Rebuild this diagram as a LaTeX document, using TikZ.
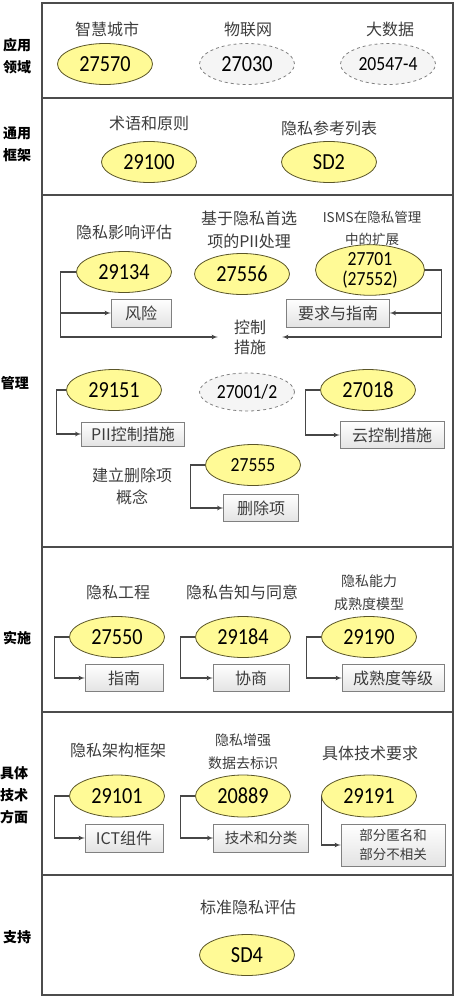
\documentclass[tikz,border=0pt]{standalone}
\usepackage{fontspec}
\newfontfamily\cjk{Noto Sans CJK SC}
\newfontfamily\numfont[FakeStretch=0.88]{Carlito}
\usepackage{tikz}
\usetikzlibrary{arrows,positioning,shapes.geometric}
\definecolor{stdyellow}{RGB}{255,250,150}
\definecolor{stdedge}{RGB}{90,85,40}
\definecolor{linegray}{RGB}{70,70,70}
\definecolor{textgray}{RGB}{60,60,60}

\begin{document}
\begin{tikzpicture}[
    x=1pt, y=-1pt,
    >=latex',
    font=\cjk\fontsize{16}{23}\selectfont,
    std/.style={
		ellipse,
		draw=stdedge,
		fill=stdyellow,
		line width=0.8pt,
		inner sep=0pt,
		minimum width=95pt,
		minimum height=41pt,
		font=\numfont\fontsize{23}{24}\selectfont
	},
	plan/.style={
		std,
		dashed,
		draw=gray,
		fill=gray!8
	},
	smallnum/.style={
		font=\numfont\fontsize{20}{20}\selectfont
	},
	item/.style={
		rectangle,
		draw=gray,
		top color=white,
		bottom color=gray!22,
		inner sep=0pt,
		minimum height=27pt,
		text=textgray
	},
	topic/.style={
		text=textgray,
		align=center,
		inner sep=0pt
	},
	smalltext/.style={
		font=\cjk\fontsize{14}{23}\selectfont
	},
	layer/.style={
		font=\cjk\bfseries\fontsize{14}{22}\selectfont,
		align=center,
		inner sep=0pt
	},
	conn/.style={
		draw=linegray,
		line width=1.1pt,
		->
	}
  ]

\useasboundingbox (0,0) rectangle (456,998);

% // The layers
\draw [line width=1.5pt, gray!60!black] (42,3) rectangle (453,995);
\foreach \y in {98,195,547,712,875}
  \draw [line width=1.5pt, gray!60!black] (42,\y) -- (453,\y);

\node [layer] (lapp) at (17,56) {应用\\领域};
\node [layer] (lgen) at (17,144) {通用\\框架};
\node [layer] (lman) at (15,383) {管理};
\node [layer] (limp) at (17,638) {实施};
\node [layer] (ltec) at (14,795) {具体\\技术\\方面};
\node [layer] (lsup) at (17,937) {支持};

% // Application
\node [topic] (tcity) at (107,29) {智慧城市};
\node [std] (s27570) at (105,64) {27570};
\node [topic] (tiot) at (248,29) {物联网};
\node [plan] (s27030) at (247,64) {27030};
\node [topic] (tbig) at (390,29) {大数据};
\node [plan, smallnum] (s20547) at (388,64) {20547-4};

% // Framework
\node [topic] (tterm) at (149,123) {术语和原则};
\node [std] (s29100) at (149,162) {29100};
\node [topic] (tref) at (329,128) {隐私参考列表};
\node [std] (sSD2) at (329,162) {SD2};

% // Management
\node [topic] (tpia) at (124,232) {隐私影响评估};
\node [topic] (tpref) at (249,230) {基于隐私首选\\项的PII处理};
\node [topic, font=\cjk\fontsize{13.5}{22}\selectfont] (tisms) at (372,228) {ISMS在隐私管理\\中的扩展};
\node [std] (s29134) at (124,272) {29134};
\node [std] (s27556) at (242,274) {27556};
\node [std, smallnum, align=center, minimum width=109pt, minimum height=46pt] (s27701) at (370,270) {27701\\(27552)};
\node [item, minimum width=60pt, minimum height=28pt] (risk) at (141,313) {风险};
\node [item, minimum width=103pt, minimum height=28pt] (req) at (338,313) {要求与指南};
\node [topic, minimum width=64pt, font=\cjk\fontsize{16}{20}\selectfont] (ctrl) at (250,337) {控制\\措施};

\draw [conn] (s29134.west) -- ++(-16,0) |- (risk.west);
\draw [conn] (s29134.west) -- ++(-16,0) |- (ctrl.west);
\draw [conn] (s27701.east) -- ++(17,0) |- (req.east);
\draw [conn] (s27701.east) -- ++(17,0) |- (ctrl.east);

\node [std] (s29151) at (114,390) {29151};
\node [item, minimum width=103pt, minimum height=24pt] (piictl) at (133,434) {PII控制措施};
\draw [conn] (s29151.west) -- ++(-10,0) |- (piictl.west);

\node [plan, smallnum, minimum height=38pt] (s27001) at (247,392) {27001/2};

\node [std] (s27018) at (368,390) {27018};
\node [item, minimum width=104pt] (cloud) at (392,435) {云控制措施};
\draw [conn] (s27018.west) -- ++(-15,0) |- (cloud.west);

\node [topic, font=\cjk\fontsize{16}{22}\selectfont] (tdel) at (132,486) {建立删除项\\概念};
\node [std, smallnum] (s27555) at (253,465) {27555};
\node [item, minimum width=75pt] (del) at (261,508) {删除项};
\draw [conn] (s27555.west) -- ++(-15,0) |- (del.west);

% // Implementation
\node [topic] (teng) at (118,592) {隐私工程};
\node [topic] (tnot) at (242,592) {隐私告知与同意};
\node [topic, smalltext] (tcap) at (369,593) {隐私能力\\成熟度模型};
\node [std] (s27550) at (117,637) {27550};
\node [std] (s29184) at (243,637) {29184};
\node [std] (s29190) at (369,637) {29190};
\node [item, minimum width=78pt] (guide) at (124,678) {指南};
\node [item, minimum width=76pt] (nego) at (251,678) {协商};
\node [item, minimum width=102pt] (level) at (393,678) {成熟度等级};
\draw [conn] (s27550.west) -- ++(-15,0) |- (guide.west);
\draw [conn] (s29184.west) -- ++(-15,0) |- (nego.west);
\draw [conn] (s29190.west) -- ++(-15,0) |- (level.west);

% // Technical
\node [topic] (tarch) at (118,750) {隐私架构框架};
\node [topic, smalltext] (tdeid) at (243,752) {隐私增强\\数据去标识};
\node [topic] (ttech) at (370,753) {具体技术要求};
\node [std, minimum height=42pt] (s29101) at (117,796) {29101};
\node [std, minimum height=42pt] (s20889) at (243,796) {20889};
\node [std, minimum height=42pt] (s29191) at (369,796) {29191};
\node [item, minimum width=78pt, minimum height=28pt] (ict) at (124,838) {ICT组件};
\node [item, minimum width=95pt, minimum height=28pt, font=\cjk\fontsize{14.5}{18}\selectfont] (class) at (261,838) {技术和分类};
\node [item, align=center, minimum width=104pt, minimum height=42pt, font=\cjk\fontsize{13.5}{19}\selectfont] (anon) at (393,845) {部分匿名和\\部分不相关};
\draw [conn] (s29101.west) -- ++(-15,0) |- (ict.west);
\draw [conn] (s20889.west) -- ++(-15,0) |- (class.west);
\draw [conn] (s29191.west) |- (anon.west);

% // Support
\node [topic] (teval) at (248,907) {标准隐私评估};
\node [std] (sSD4) at (247,955) {SD4};

\end{tikzpicture}
\end{document}
